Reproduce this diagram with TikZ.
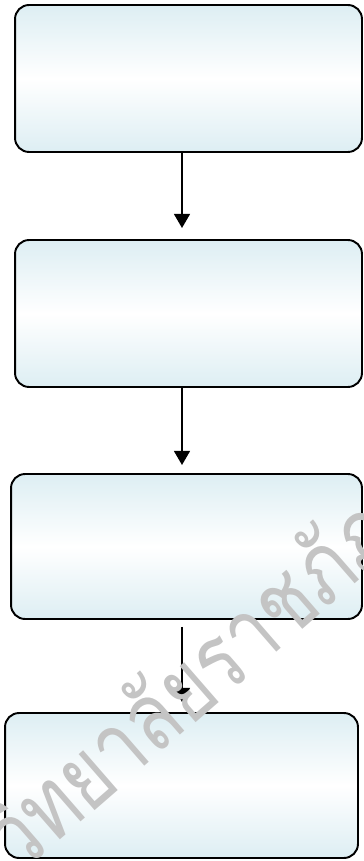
\documentclass[tikz,border=0pt]{standalone}
\usepackage{fontspec}
\newfontfamily\thaifont[Script=Thai]{Loma}
\usetikzlibrary{arrows.meta}

\definecolor{stepblue}{RGB}{221,238,243}
\definecolor{markgray}{RGB}{196,196,196}

\tikzset{
    stagebox/.style={draw=black, line width=1.1pt, rounded corners=8pt,
        top color=stepblue, bottom color=stepblue, middle color=white,
        minimum width=6.94cm, minimum height=2.94cm, inner sep=0pt},
    flow/.style={line width=1.1pt, -{Triangle[width=9pt,length=8pt]}},
    stamp/.style={text=markgray, font=\thaifont\fontsize{54}{54}\selectfont,
        rotate=41, xscale=0.8, anchor=base west, inner sep=0pt}
}

\begin{document}
\begin{tikzpicture}[x=0.02cm, y=-0.02cm]

    \useasboundingbox (0, 0) rectangle (363, 861);

    % the four stages
    \node[stagebox] (s1) at (188.5, 78.5) {};
    \node[stagebox] (s2) at (188.5, 313.5) {};
    \node[stagebox, minimum width=7.02cm, minimum height=2.9cm] (s3) at (186.5, 546.5) {};
    \node[stagebox, minimum width=7.06cm, minimum height=2.9cm] (s4) at (181.5, 785.5) {};

    % arrow tips
    \coordinate (t1) at (182, 228);
    \coordinate (t2) at (182, 465);
    \coordinate (t3) at (182, 702);

    \draw[flow] (s1.south -| t1) -- (t1);
    \draw[flow] (s2.south -| t2) -- (t2);
    \draw[flow] ([yshift=-4pt]s3.south -| t3) -- (t3);

    % watermark
    \begin{scope}
        \clip (0, 0) rectangle (363, 861);
        \node[stamp] (mark) at (19, 876) {วิทยาลัยราชภัฏ};
    \end{scope}

\end{tikzpicture}
\end{document}
